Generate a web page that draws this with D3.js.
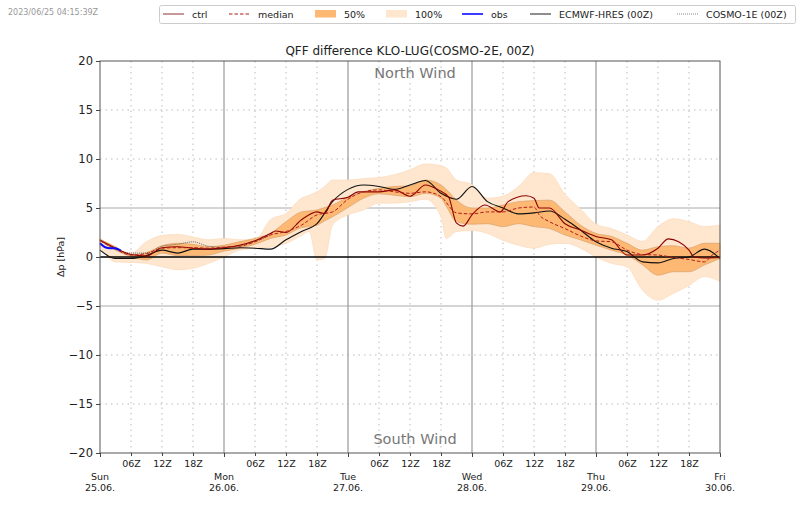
<!DOCTYPE html>
<html>
<head>
<meta charset="utf-8">
<script src="https://cdn.jsdelivr.net/npm/d3@7"></script>
<style>
  html, body { margin: 0; padding: 0; background: #fff; }
  svg { display: block; }
  text { font-family: "DejaVu Sans", sans-serif; fill: #222; }
</style>
</head>
<body>
<div id="chart"></div>
<script>
// hours since 25.06. 00Z
var bandHours = [0,3,6,9,12,15,18,21,24,27,30,33,36,39,40.5,42,43.5,45,48,51,54,57,60,63,66,67,69,72,75,78,81,84,87,90,93,96,99,102,105,108,111,114,117,120];
var p100Low = [1.05,-0.5,-0.55,-0.65,-1,-1.3,-1.15,-0.65,0,0.7,0.9,1,1.4,2.2,2.6,-0.3,-0.15,3.25,4.3,4.8,5.5,5.5,5.65,5.9,4.1,1.9,2.6,2.7,2.4,1.7,1.2,0.9,1.3,1.4,0.9,0,-0.65,-1,-3.4,-4.4,-3.7,-2.9,-2,-2.5];
var p100High = [1.9,0.9,0.4,1.55,2.2,2.3,2.05,1.75,1.9,1.75,1.75,3.8,4.45,6,6.3,6.65,7.2,7.85,7.85,8,8.1,8.4,8.9,9.5,9.3,9.1,7.85,7.4,6,6.2,7.2,8.6,8.5,6.4,4.9,3.35,2.9,2.25,1.6,3.1,3.9,3.6,3.1,3.25];
var p50High = [1.8,1.05,0.2,0.45,1.15,1.4,1.3,1.05,1.2,1.55,1.9,2.4,3.6,4.6,4.7,4.8,5.05,5.3,6.1,6.65,7,7.2,7.25,7.85,7.35,6.9,5.8,5,5,5.3,5.65,5.75,5.8,4.6,3.25,2.4,2.1,1.4,0.7,1.05,1.15,0.9,1.4,1.4];
var p50Low = [1.65,0.7,0.05,-0.3,0.4,0.15,0.15,0.2,0.6,0.9,1.3,1.9,2.25,3,3.1,3.25,3.7,4.1,5.05,6,6.45,6.3,6.15,6.5,6,5.2,3.6,3.35,3.4,3.1,3.4,3.1,2.9,2.25,1.75,1.2,0.7,0.2,-0.8,-1.85,-1.5,-1.5,-0.8,-0.15];

var ctrlHours = [0,3,6,9,12,15,18,21,24,27,30,33,34,36,39,42,43.5,45,48,50,54,57,60,63,65.5,67.5,69,70.3,72,74.5,77.5,79,82.5,84,85,87,90,93,96,99,102,105,108,110,112,114,115,117,120];
var ctrl = [1.7,0.9,0.25,0.1,0.95,1.05,0.9,0.8,0.95,1.2,1.65,2.4,2.65,2.5,3.8,4.6,4.45,5.8,6.1,6.65,6.65,6.85,6.2,7.35,6.85,6.1,3.45,3.15,4.3,5.3,4.6,5.65,6.25,6,5,5,3.4,2.75,2.1,1.75,0.2,0.2,0.9,1.85,1.55,0.7,0,-0.1,-0.05];

var medianHours = [0,3,6,9,12,15,18,21,24,27,30,33,36,39,42,45,48,51,54,57,60,63,66,69,72,75,78,81,84,85,87,90,93,96,99,102,105,108,111,114,117,118.5,120];
var median = [1.7,0.8,0.2,0.35,0.9,0.95,0.95,0.9,1,1.1,1.55,2.25,2.6,3.25,4.3,4.6,5.9,6.65,6.85,6.65,6.5,6.65,6.15,4.5,4.4,4.6,4.6,5,5.1,4.3,3.6,2.9,2.15,1.65,1.55,0.7,0.25,0.2,-0.05,-0.25,-0.5,0.2,0.7];

var ecmwfHours = [0,3,6,9,12,15,18,21,24,27,30,33,36,39,42,45,48,51,54,57,60,63,66,69,72,75,78,81,84,87,90,93,96,99,102,105,108,111,114,117,120];
var ecmwf = [0.7,-0.15,-0.15,0.15,0.7,0.4,0.8,0.8,0.85,0.95,0.9,0.8,1.75,2.6,3.4,5.65,6.9,7.35,7.2,6.9,7.35,7.8,6.5,5.9,7.2,5.65,5,4.4,4.5,4.7,3.85,2.75,1.55,0.9,0.55,-0.5,-0.6,-0.15,0,0.8,-0.15];

var cosmoHours = [0,3,6,9,12,15,18,21,24,27,30,33];
var cosmo = [1.7,0.8,0.4,0.4,1.1,1.3,1.55,1.1,1,1.1,1.6,2.2];

var obsHours = [0,1,2,3,4];
var obs = [1.4,1,0.9,0.9,0.65];

var yTicks = [-20,-15,-10,-5,0,5,10,15,20];
var subTicks = [6,12,18,30,36,42,54,60,66,78,84,90,102,108,114];
var subLabels = ["06Z","12Z","18Z"];
var dayTicks = [0,24,48,72,96,120];
var dayNames = ["Sun","Mon","Tue","Wed","Thu","Fri"];
var dayDates = ["25.06.","26.06.","27.06.","28.06.","29.06.","30.06."];
var legendNames = ["ctrl","median","50%","100%","obs","ECMWF-HRES (00Z)","COSMO-1E (00Z)"];

var width = 800, height = 509;
var left = 100, right = 720, top_ = 61, bottom = 453;

var svg = d3.select("#chart").append("svg")
  .attr("width", width)
  .attr("height", height);

var x = d3.scaleLinear().domain([0, 120]).range([left, right]);
var y = d3.scaleLinear().domain([-20, 20]).range([bottom, top_]);

// grid
svg.selectAll(".hgrid").data(yTicks.filter(d => Math.abs(d) != 20 && d != 0))
  .enter().append("line")
    .attr("x1", left).attr("x2", right)
    .attr("y1", d => y(d)).attr("y2", d => y(d))
    .style("stroke", d => Math.abs(d) == 5 ? "#aaa" : "#bbb")
    .style("stroke-width", 1)
    .style("stroke-dasharray", d => Math.abs(d) == 5 ? null : "1.5,4");

svg.selectAll(".vgrid").data(subTicks)
  .enter().append("line")
    .attr("x1", d => x(d)).attr("x2", d => x(d))
    .attr("y1", top_).attr("y2", bottom)
    .style("stroke", "#bbb")
    .style("stroke-dasharray", "1.5,4");

svg.selectAll(".dayline").data(dayTicks.slice(1, 5))
  .enter().append("line")
    .attr("x1", d => x(d)).attr("x2", d => x(d))
    .attr("y1", top_).attr("y2", bottom)
    .style("stroke", "#999")
    .style("stroke-width", 1.2);

// bands
function band(low, high) {
  return d3.area()
    .x((d, i) => x(bandHours[i]))
    .y0((d, i) => y(low[i]))
    .y1((d, i) => y(high[i]))
    .curve(d3.curveMonotoneX)(bandHours);
}
svg.append("path").attr("d", band(p100Low, p100High))
  .style("fill", "#ffe6cf").style("stroke", "#fbdcbe").style("stroke-width", 0.8);
svg.append("path").attr("d", band(p50Low, p50High))
  .style("fill", "#fdb873").style("stroke", "#dca671").style("stroke-width", 0.8);

// zero line
svg.append("line")
  .attr("x1", left).attr("x2", right)
  .attr("y1", y(0)).attr("y2", y(0))
  .style("stroke", "#000").style("stroke-width", 1.4);

var line = d3.line().x(d => x(d[0])).y(d => y(d[1])).curve(d3.curveMonotoneX);
function draw(hs, vals, colour, w, dash) {
  svg.append("path")
    .attr("d", line(d3.zip(hs, vals)))
    .style("fill", "none")
    .style("stroke", colour)
    .style("stroke-width", w)
    .style("stroke-dasharray", dash);
}
draw(cosmoHours, cosmo, "#666", 1, "1,1");
draw(ecmwfHours, ecmwf, "#111", 1.1, null);
draw(ctrlHours, ctrl, "#8b0000", 1.1, null);
draw(medianHours, median, "#b01c1c", 1, "3.5,2");
draw(obsHours, obs, "#0a0aff", 2, null);

// frame
svg.append("rect")
  .attr("x", left).attr("y", top_)
  .attr("width", right - left).attr("height", bottom - top_)
  .style("fill", "none").style("stroke", "#555").style("stroke-width", 1);

// axes
var yAxis = svg.append("g")
  .attr("transform", "translate(" + left + ",0)")
  .call(d3.axisLeft(y).tickValues(yTicks).tickSize(4).tickPadding(3));
yAxis.select(".domain").remove();
yAxis.selectAll("text").style("font-size", "11.5px").style("font-family", '"DejaVu Sans"');
yAxis.selectAll("line").style("stroke", "#444");

var xAxis = svg.append("g")
  .attr("transform", "translate(0," + bottom + ")")
  .call(d3.axisBottom(x).tickValues(subTicks)
    .tickFormat((d, i) => subLabels[i % 3]).tickSize(3).tickPadding(4));
xAxis.select(".domain").remove();
xAxis.selectAll("text").style("font-size", "9.5px").style("font-family", '"DejaVu Sans"');
xAxis.selectAll("line").style("stroke", "#444");

var dayAxis = svg.append("g")
  .attr("transform", "translate(0," + bottom + ")")
  .call(d3.axisBottom(x).tickValues(dayTicks).tickFormat("").tickSize(4));
dayAxis.select(".domain").remove();
dayAxis.selectAll("line").style("stroke", "#444");

svg.selectAll(".dayname").data(dayNames)
  .enter().append("text")
    .attr("x", (d, i) => x(dayTicks[i])).attr("y", 480)
    .attr("text-anchor", "middle").style("font-size", "9.5px")
    .text(d => d);
svg.selectAll(".daydate").data(dayDates)
  .enter().append("text")
    .attr("x", (d, i) => x(dayTicks[i])).attr("y", 491)
    .attr("text-anchor", "middle").style("font-size", "9.5px")
    .text(d => d);

// labels
svg.append("text").attr("x", 410).attr("y", 55)
  .attr("text-anchor", "middle").style("font-size", "12px")
  .text("QFF difference KLO-LUG(COSMO-2E, 00Z)");
svg.append("text").attr("x", 415).attr("y", 78)
  .attr("text-anchor", "middle").style("font-size", "14.5px").style("fill", "#777")
  .text("North Wind");
svg.append("text").attr("x", 415).attr("y", 444)
  .attr("text-anchor", "middle").style("font-size", "14.5px").style("fill", "#777")
  .text("South Wind");
svg.append("text")
  .attr("transform", "translate(64,257) rotate(-90)")
  .attr("text-anchor", "middle").style("font-size", "9.5px")
  .text("\u0394p [hPa]");
svg.append("text").attr("x", 8).attr("y", 15)
  .style("font-size", "8px").style("fill", "#999")
  .text("2023/06/25 04:15:39Z");

// legend
svg.append("rect")
  .attr("x", 159.5).attr("y", 5.5).attr("width", 636).attr("height", 18).attr("rx", 2)
  .style("fill", "#fff").style("stroke", "#ccc");
var legendX = [163, 229, 315, 386, 462, 530, 677];
var legendStyle = [
  {stroke: "#a86060", w: 1.3},
  {stroke: "#b01c1c", w: 1.1, dash: "3.5,2"},
  {fill: "#fdb873"},
  {fill: "#ffe6cf"},
  {stroke: "#0a0aff", w: 1.6},
  {stroke: "#444", w: 1.2},
  {stroke: "#888", w: 1, dash: "1,1"}
];
legendNames.forEach(function(name, i) {
  var s = legendStyle[i];
  if (s.fill) {
    svg.append("rect").attr("x", legendX[i]).attr("y", 10).attr("width", 21).attr("height", 7.5)
      .style("fill", s.fill);
  } else {
    svg.append("line").attr("x1", legendX[i]).attr("x2", legendX[i] + 21)
      .attr("y1", 14).attr("y2", 14)
      .style("stroke", s.stroke).style("stroke-width", s.w)
      .style("stroke-dasharray", s.dash);
  }
  svg.append("text").attr("x", legendX[i] + 29).attr("y", 18)
    .style("font-size", "9.5px").text(name);
});
</script>
</body>
</html>
